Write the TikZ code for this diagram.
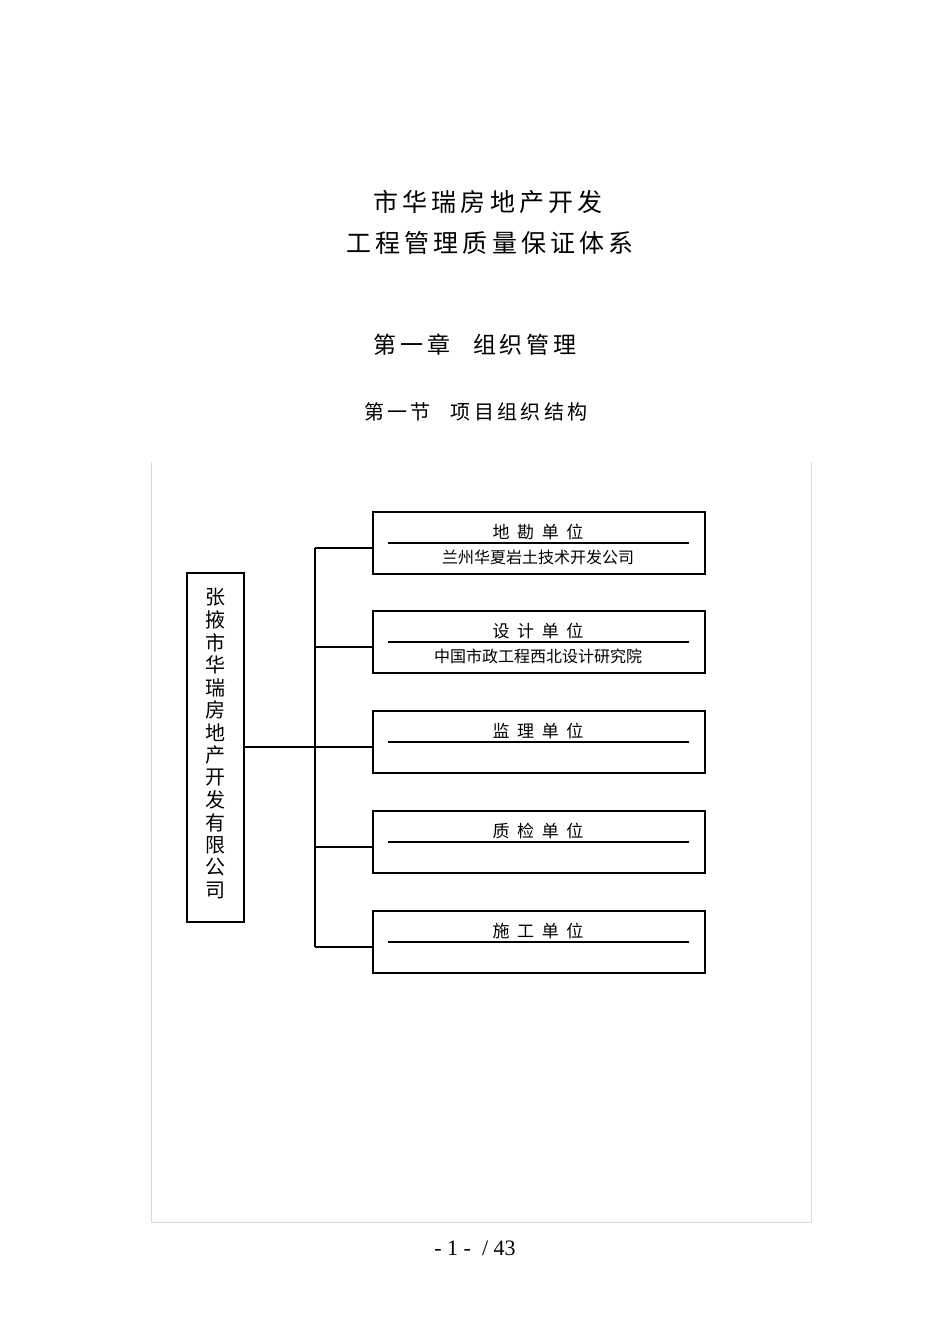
\documentclass[tikz,border=0pt]{standalone}
\usepackage{fontspec}
\setmainfont{Liberation Serif}
\newfontfamily\cjk{Noto Sans CJK SC}[Scale=1]
\begin{document}
\begin{tikzpicture}[x=0.5pt,y=-0.5pt,
  unitbox/.style={draw,thick,minimum width=166pt,minimum height=31pt,anchor=north west,inner sep=0pt},
  conn/.style={draw,line width=0.6pt},
  ttl/.style={font=\cjk\fontsize{8.5}{10}\selectfont},
  sub/.style={font=\cjk\fontsize{8}{10}\selectfont}]
\useasboundingbox (0,0) rectangle (950,1344);
\node[font=\cjk\fontsize{12.5}{14}\selectfont] (t1) at (488,202) {市\,华\,瑞\,房\,地\,产\,开\,发};
\node[font=\cjk\fontsize{12.5}{14}\selectfont] (t2) at (490,243) {工\,程\,管\,理\,质\,量\,保\,证\,体\,系};
\node[font=\cjk\fontsize{11.5}{14}\selectfont] (t3) at (475,345) {第\,一\,章\quad 组\,织\,管\,理};
\node[font=\cjk\fontsize{10}{12}\selectfont] (t4) at (476,412) {第\,一\,节\quad 项\,目\,组\,织\,结\,构};
\draw[black!15] (151,462) -- (151,1222) -- (811,1222) -- (811,462);
\node[draw,thick,minimum width=28.5pt,minimum height=174.5pt,inner sep=0pt] (main) at (215.5,747.5) {};
\foreach \c [count=\i] in {张,掖,市,华,瑞,房,地,产,开,发,有,限,公,司}
  \node[font=\cjk\fontsize{10}{12}\selectfont,inner sep=0pt] (m\i) at (215.5,{575+22.5*\i}) {\c};
\coordinate (bus) at (315,747);
\coordinate (btop) at (315,548);
\coordinate (bbot) at (315,947);
\draw[conn] (main.east|-bus) -- (bus);
\draw[conn] (btop) -- (bbot);
\foreach \y/\t/\s [count=\i] in {511/地\ \ 勘\ \ 单\ \ 位/兰州华夏岩土技术开发公司,610/设\ \ 计\ \ 单\ \ 位/中国市政工程西北设计研究院,710/监\ \ 理\ \ 单\ \ 位/,810/质\ \ 检\ \ 单\ \ 位/,910/施\ \ 工\ \ 单\ \ 位/}{
  \node[unitbox] (u\i) at (372,\y) {};
  \coordinate (l\i) at (388,\y+32);
  \coordinate (r\i) at (689,\y+32);
  \draw[conn] (l\i) -- (r\i);
  \node[ttl] (ut\i) at (538,\y+21) {\t};
  \node[sub] (us\i) at (538,\y+46) {\s};
  \coordinate (j\i) at (315,\y+37);
  \draw[conn] (j\i) -- (u\i.west|-j\i);
}
\node[font=\fontsize{11}{13}\selectfont] (pg) at (475,1248) {- 1 - \ / 43};
\end{tikzpicture}
\end{document}
